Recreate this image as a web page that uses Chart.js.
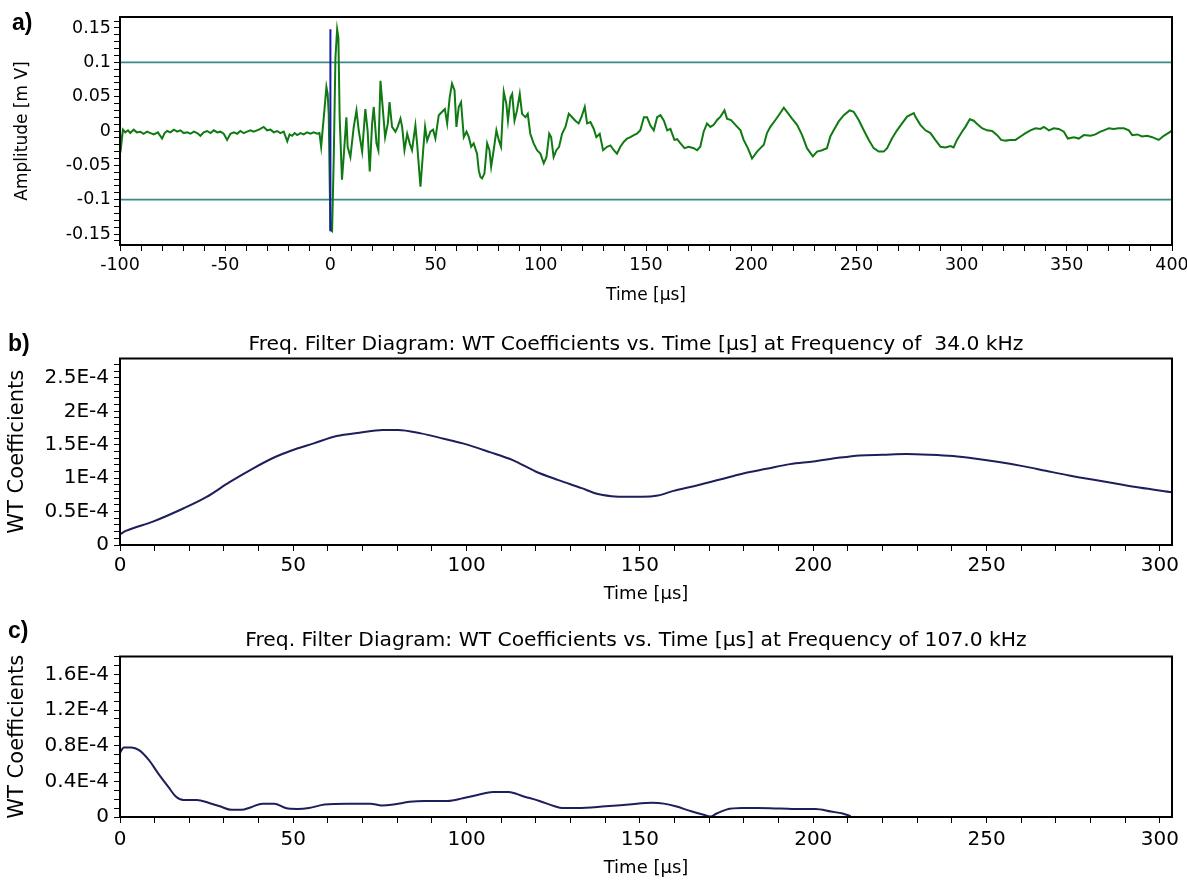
<!DOCTYPE html>
<html>
<head>
<meta charset="utf-8">
<script src="https://cdn.jsdelivr.net/npm/chart.js@4.4.1/dist/chart.umd.min.js"></script>
<style>
  html, body { margin: 0; padding: 0; background: #fff; }
  #page { position: relative; width: 1187px; height: 882px; overflow: hidden; }
  #page canvas { position: absolute; left: 0; }
  .tag { position: absolute; font: bold 23px 'Liberation Sans', Arial, sans-serif; line-height: 1; color: #000; }
</style>
</head>
<body>
<div id="page">
  <canvas id="chartA" width="1210" height="310" style="top:0"></canvas>
  <canvas id="chartB" width="1210" height="300" style="top:310px"></canvas>
  <canvas id="chartC" width="1210" height="272" style="top:610px"></canvas>
  <div class="tag" style="left:12px;top:11px">a)</div>
  <div class="tag" style="left:8px;top:332px">b)</div>
  <div class="tag" style="left:8px;top:619px">c)</div>
</div>
<script>
/* ── a) recorded signal, read off the trace ── */
const timeA = [
  -100, -99.4, -98.6, -97.5, -96.2, -95.1, -93.5, -92.0, -90.3, -88.8, -87.1, -85.5, -83.9, -82.0, -80.0,
  -78.8, -77.6, -76.0, -74.4, -72.8, -71.3, -69.7, -68.1, -66.5, -64.9, -63.3, -61.8, -60.2, -58.6, -57.0,
  -55.4, -53.8, -52.3, -50.7, -49.1, -47.5, -45.9, -44.3, -42.8, -41.2, -39.6, -38.0, -36.5, -34.0, -31.7,
  -30.1, -28.5, -26.9, -25.3, -23.8, -22.2, -20.5, -19.4, -18.2, -17.0, -15.8, -14.2, -12.7, -11.1, -9.5,
  -7.9, -6.3, -5.2, -4.4, -3.6, -3.0, -1.9, -1.3, -0.8, 0.0, 0.8, 1.6, 2.4, 3.2, 3.8,
  4.4, 5.5, 6.3, 7.6, 8.2, 9.5, 11.1, 12.4, 13.5, 15.1, 16.6, 17.7, 18.7, 19.8, 20.6,
  21.9, 22.8, 23.8, 24.7, 26.0, 27.3, 28.1, 29.3, 30.9, 32.0, 33.3, 34.1, 35.2, 36.5, 37.7,
  38.8, 40.4, 41.2, 42.8, 44.1, 45.0, 46.0, 47.5, 48.8, 49.9, 51.5, 53.1, 54.4, 55.5, 56.7,
  57.8, 59.0, 59.9, 61.0, 62.1, 63.4, 64.7, 65.8, 66.9, 68.1, 69.7, 70.5, 71.3, 72.1, 73.2,
  74.5, 75.6, 76.4, 77.6, 78.9, 80.0, 81.1, 82.4, 83.6, 84.4, 85.6, 86.4, 87.5, 88.7, 90.0,
  91.1, 92.7, 93.8, 95.0, 96.6, 98.2, 99.8, 101.4, 102.7, 104.0, 104.9, 106.1, 107.4, 108.7, 110.1,
  111.7, 113.3, 114.9, 116.4, 118.0, 119.3, 120.9, 122.0, 123.6, 125.2, 126.4, 128.0, 129.6, 131.5, 133.1,
  134.7, 136.2, 137.8, 139.4, 141.0, 142.6, 144.2, 145.7, 147.3, 149.0, 150.5, 152.1, 153.7, 155.3, 156.9,
  158.5, 160.1, 161.6, 163.5, 164.8, 166.4, 168.3, 170.3, 172.7, 174.3, 175.8, 177.4, 179.0, 180.6, 182.2,
  183.8, 185.4, 187.3, 188.5, 190.4, 192.5, 194.9, 196.4, 198.4, 200.4, 202.8, 204.4, 206.0, 207.5, 209.1,
  211.5, 213.1, 215.5, 217.0, 219.4, 221.8, 224.2, 226.5, 229.3, 231.3, 233.7, 236.0, 237.6, 239.2, 241.6,
  244.0, 246.8, 248.7, 251.1, 253.5, 255.9, 258.2, 260.6, 263.0, 264.6, 266.9, 269.3, 271.7, 274.1, 277.3,
  278.0, 280.4, 282.8, 285.2, 287.5, 290.0, 292.3, 294.7, 296.2, 297.8, 300.2, 301.8, 303.9, 305.8, 307.4,
  309.7, 312.1, 314.5, 316.9, 318.8, 320.8, 323.2, 325.6, 328.0, 330.4, 332.7, 335.1, 337.5, 339.1, 341.5,
  343.8, 346.2, 348.6, 350.5, 353.4, 355.7, 358.1, 361.3, 363.6, 366.0, 367.6, 370.0, 372.3, 374.7, 377.1,
  379.5, 381.1, 383.5, 385.8, 388.2, 390.6, 393.7, 396.1, 399.3, 400.0
];
const ampA = [
  -0.004, -0.020, 0.002, -0.002, 0.001, -0.003, 0.002, -0.002, -0.001, -0.004, -0.001, -0.003, -0.005, -0.002, -0.011,
  -0.003, 0.000, -0.002, 0.002, -0.001, 0.001, -0.003, -0.002, -0.004, -0.001, -0.003, -0.007, -0.002, 0.000, -0.003,
  0.001, -0.002, -0.001, -0.004, -0.013, -0.004, -0.002, -0.004, 0.000, -0.003, -0.001, 0.001, -0.001, 0.002, 0.006,
  0.001, 0.002, -0.002, 0.000, -0.003, -0.001, -0.015, -0.005, -0.007, -0.003, -0.006, -0.003, -0.005, -0.002, -0.004,
  -0.002, -0.004, -0.003, -0.023, 0.005, 0.025, 0.064, 0.054, 0.025, -0.144, -0.146, -0.038, 0.107, 0.148, 0.136,
  0.020, -0.071, -0.038, 0.020, -0.023, -0.038, 0.006, 0.030, 0.000, -0.030, 0.032, 0.000, -0.059, 0.010, 0.035,
  -0.018, -0.028, 0.073, 0.040, -0.009, 0.011, 0.042, 0.006, -0.001, 0.006, 0.018, 0.006, -0.028, -0.004, -0.018,
  -0.028, 0.008, -0.018, -0.081, -0.028, 0.006, -0.014, -0.001, 0.002, -0.011, 0.023, 0.028, 0.032, 0.011, 0.049,
  0.069, 0.059, 0.006, 0.035, 0.042, -0.009, -0.001, -0.009, -0.023, -0.018, -0.033, -0.057, -0.067, -0.069, -0.062,
  -0.018, -0.028, -0.052, -0.028, 0.001, -0.013, -0.023, 0.057, 0.040, 0.015, 0.049, 0.054, 0.015, 0.030, 0.054,
  0.025, 0.020, 0.025, -0.004, -0.018, -0.028, -0.033, -0.047, -0.038, -0.004, -0.009, -0.038, -0.028, -0.023, -0.004,
  0.006, 0.025, 0.020, 0.015, 0.011, 0.020, 0.035, 0.011, 0.013, 0.003, -0.009, -0.004, -0.028, -0.023, -0.021,
  -0.028, -0.033, -0.023, -0.016, -0.011, -0.009, -0.006, -0.004, 0.001, 0.020, 0.020, 0.008, 0.001, 0.020, 0.023,
  0.015, 0.001, 0.003, -0.013, -0.012, -0.018, -0.025, -0.023, -0.025, -0.028, -0.023, -0.001, 0.011, 0.006, 0.009,
  0.016, 0.021, 0.030, 0.018, 0.016, 0.009, 0.001, -0.013, -0.025, -0.040, -0.030, -0.025, -0.020, -0.003, 0.006,
  0.016, 0.023, 0.034, 0.028, 0.018, 0.009, -0.006, -0.025, -0.037, -0.030, -0.028, -0.025, -0.008, 0.001, 0.014,
  0.023, 0.030, 0.028, 0.016, 0.001, -0.013, -0.025, -0.030, -0.030, -0.025, -0.011, 0.001, 0.011, 0.021, 0.026,
  0.021, 0.009, 0.001, -0.003, -0.013, -0.023, -0.024, -0.022, -0.024, -0.013, -0.001, 0.006, 0.017, 0.015, 0.010,
  0.004, 0.001, 0.000, -0.006, -0.013, -0.014, -0.013, -0.013, -0.008, -0.003, 0.001, 0.004, 0.003, 0.006, 0.001,
  0.004, 0.003, -0.001, -0.011, -0.009, -0.011, -0.006, -0.007, -0.005, -0.001, 0.001, 0.004, 0.003, 0.004, 0.004,
  0.001, -0.006, -0.005, -0.008, -0.007, -0.009, -0.013, -0.007, -0.001, 0.001
];
const thresholdA = 0.1;
const triggerTime = 0;
const triggerSpan = [0.148, -0.146];

/* ── b) WT coefficients at 34.0 kHz (values ×1E-4) ── */
const timeB = [
  0, 1.7, 9.5, 18.4, 25, 31.6, 38.2, 44.9, 49.3, 55.9, 62.5, 69.1, 75.8, 80.2, 86.8, 93.4, 98.9,
  106.7, 113.3, 119.9, 126.5, 133.2, 137.3, 141.8, 146.3, 150.7, 155.2, 159.7, 166.4, 173.1, 179.8,
  186.5, 193.3, 200, 206.7, 213.4, 220.1, 226.8, 233.5, 240.3, 247, 253.6, 260.4, 267.1, 273.8,
  280.5, 287.2, 294, 303.5
];
const coefB = [
  0.16, 0.21, 0.35, 0.55, 0.72, 0.94, 1.14, 1.32, 1.41, 1.52, 1.63, 1.68, 1.72, 1.72, 1.67, 1.59, 1.52,
  1.39, 1.27, 1.10, 0.97, 0.85, 0.77, 0.73, 0.72, 0.72, 0.74, 0.81, 0.89, 0.98, 1.07,
  1.14, 1.21, 1.25, 1.30, 1.34, 1.35, 1.36, 1.35, 1.33, 1.29, 1.24, 1.18, 1.11, 1.04,
  0.98, 0.92, 0.86, 0.79
];

/* ── c) WT coefficients at 107.0 kHz (values ×1E-4) ── */
const timeC = [
  0, 1.1, 3.3, 5.5, 8.3, 11, 13.9, 16.1, 18.3, 22.2, 25.5, 28.8, 32.2, 35, 37.8, 41.1, 44.5, 47.8,
  51.2, 54.5, 59, 65.5, 72.2, 75.5, 78.9, 83.5, 87.8, 94.5, 98.9, 103.4, 107.6, 112.1, 116.5, 121,
  125.4, 127.6, 132, 140.1, 146.8, 153.6, 156.9, 160.3, 164.8, 168.1, 170.4, 172.1, 174.9, 179.4,
  183.9, 190.6, 196.2, 200.7, 205.1, 208.5, 210.8
];
const coefC = [
  0.72, 0.78, 0.78, 0.75, 0.64, 0.49, 0.34, 0.23, 0.19, 0.19, 0.16, 0.12, 0.08, 0.08, 0.11, 0.15, 0.15, 0.10,
  0.09, 0.10, 0.14, 0.15, 0.15, 0.13, 0.14, 0.17, 0.18, 0.18, 0.21, 0.25, 0.28, 0.28, 0.23, 0.18,
  0.12, 0.10, 0.10, 0.12, 0.14, 0.16, 0.15, 0.12, 0.064, 0.028, 0.005, 0.039, 0.083, 0.10,
  0.10, 0.095, 0.089, 0.089, 0.061, 0.039, 0.009
];

const FONT = "'DejaVu Sans', sans-serif";

/* ── Box around the plot area ── */
const framePlugin = {
  id: 'frame',
  afterDatasetsDraw(chart) {
    const { ctx, chartArea: a } = chart;
    ctx.save();
    ctx.strokeStyle = '#000';
    ctx.lineWidth = 2;
    ctx.strokeRect(a.left, a.top, a.right - a.left, a.bottom - a.top);
    ctx.restore();
  }
};

/* ── Title over the plot area ── */
const panelTitlePlugin = {
  id: 'panelTitle',
  afterDraw(chart, args, opts) {
    if (!opts || !opts.text) return;
    const { ctx, chartArea: a } = chart;
    ctx.save();
    ctx.font = `${opts.size}px ${FONT}`;
    ctx.fillStyle = '#000';
    ctx.textAlign = 'center';
    ctx.textBaseline = 'alphabetic';
    ctx.fillText(opts.text, (a.left + a.right) / 2 + (opts.shift || 0), opts.baseline);
    ctx.restore();
  }
};

function labelEvery(step, fmt) {
  return (value) => {
    const k = value / step;
    return Math.abs(k - Math.round(k)) < 1e-6 ? fmt(value) : '';
  };
}

const fmtPlain = (v) => String(Math.round(v * 1000) / 1000);
const fmtE4 = (v) => {
  const n = Math.round(v * 1e5) / 10;
  return n === 0 ? '0' : n + 'E-4';
};

function xScale(o) {
  return {
    type: 'linear',
    min: o.min,
    max: o.max,
    afterFit: (s) => { s.height = o.height; },
    border: { display: true, color: '#000', width: 2 },
    grid: { drawOnChartArea: false, drawTicks: true, tickLength: 6, tickColor: '#000', tickWidth: 1 },
    ticks: {
      stepSize: 10, maxTicksLimit: 1000, autoSkip: false, includeBounds: false, maxRotation: 0,
      color: '#000', font: { family: FONT, size: o.tickSize }, padding: o.tickPad,
      callback: labelEvery(50, fmtPlain)
    },
    title: {
      display: true, text: 'Time [µs]', color: '#000',
      font: { family: FONT, size: o.titleSize }, padding: { top: 0, bottom: o.titlePad }
    }
  };
}

function yScale(o) {
  return {
    type: 'linear',
    min: o.min,
    max: o.max,
    afterFit: (s) => { s.width = 120; },
    border: { display: true, color: '#000', width: 2 },
    grid: { drawOnChartArea: false, drawTicks: true, tickLength: 6, tickColor: '#000', tickWidth: 1 },
    ticks: {
      stepSize: o.step, maxTicksLimit: 1000, autoSkip: false, includeBounds: false,
      color: '#000', font: { family: FONT, size: o.tickSize }, padding: o.tickPad,
      callback: labelEvery(o.labelStep, o.fmt)
    },
    title: {
      display: true, text: o.title, color: '#000',
      font: { family: FONT, size: o.titleSize }, padding: { top: o.titlePad, bottom: 0 }
    }
  };
}

const baseOptions = {
  responsive: false,
  animation: false,
  events: [],
  plugins: { legend: { display: false }, tooltip: { enabled: false } }
};

/* ── a) Amplitude vs time ── */
new Chart(document.getElementById('chartA'), {
  type: 'line',
  data: {
    datasets: [
      {
        data: [{ x: triggerTime, y: triggerSpan[0] }, { x: triggerTime, y: triggerSpan[1] }],
        borderColor: '#1a1aa8', borderWidth: 2, pointRadius: 0, order: 0
      },
      {
        data: timeA.map((t, i) => ({ x: t, y: ampA[i] })),
        borderColor: '#0f7a12', borderWidth: 2, pointRadius: 0, tension: 0, order: 1
      },
      {
        data: [{ x: -100, y: thresholdA }, { x: 400, y: thresholdA }],
        borderColor: '#3d8886', borderWidth: 1.8, pointRadius: 0, order: 2
      },
      {
        data: [{ x: -100, y: -thresholdA }, { x: 400, y: -thresholdA }],
        borderColor: '#3d8886', borderWidth: 1.8, pointRadius: 0, order: 2
      }
    ]
  },
  options: {
    ...baseOptions,
    layout: { padding: { left: 0, right: 38, top: 17, bottom: 0 } },
    scales: {
      x: xScale({ min: -100, max: 400, height: 65, tickSize: 17.5, tickPad: 4, titleSize: 17, titlePad: 4 }),
      y: yScale({
        min: -0.166, max: 0.166, step: 0.01, labelStep: 0.05, fmt: fmtPlain,
        tickSize: 17.5, tickPad: 3, title: 'Amplitude [m V]', titleSize: 17, titlePad: 12
      })
    }
  },
  plugins: [framePlugin]
});

/* ── b) 34.0 kHz ── */
new Chart(document.getElementById('chartB'), {
  type: 'line',
  data: {
    datasets: [{
      data: timeB.map((t, i) => ({ x: t, y: coefB[i] * 1e-4 })),
      borderColor: '#1e1e5c', borderWidth: 2, pointRadius: 0, cubicInterpolationMode: 'monotone'
    }]
  },
  options: {
    ...baseOptions,
    layout: { padding: { left: 0, right: 38, top: 48.5, bottom: 0 } },
    plugins: {
      ...baseOptions.plugins,
      panelTitle: { text: 'Freq. Filter Diagram: WT Coefficients vs. Time [µs] at Frequency of  34.0 kHz', size: 20.3, baseline: 39.5, shift: -10 }
    },
    scales: {
      x: xScale({ min: 0, max: 303.5, height: 65, tickSize: 20, tickPad: 2.5, titleSize: 18, titlePad: 5 }),
      y: yScale({
        min: 0, max: 2.79e-4, step: 1e-5, labelStep: 5e-5, fmt: fmtE4,
        tickSize: 20, tickPad: 5, title: 'WT Coefficients', titleSize: 21, titlePad: 5
      })
    }
  },
  plugins: [framePlugin, panelTitlePlugin]
});

/* ── c) 107.0 kHz ── */
new Chart(document.getElementById('chartC'), {
  type: 'line',
  data: {
    datasets: [{
      data: timeC.map((t, i) => ({ x: t, y: coefC[i] * 1e-4 })),
      borderColor: '#1e1e5c', borderWidth: 2, pointRadius: 0, cubicInterpolationMode: 'monotone'
    }]
  },
  options: {
    ...baseOptions,
    layout: { padding: { left: 0, right: 38, top: 46.5, bottom: 0 } },
    plugins: {
      ...baseOptions.plugins,
      panelTitle: { text: 'Freq. Filter Diagram: WT Coefficients vs. Time [µs] at Frequency of 107.0 kHz', size: 20.3, baseline: 35.5, shift: -10 }
    },
    scales: {
      x: xScale({ min: 0, max: 303.5, height: 65, tickSize: 20, tickPad: 5, titleSize: 18, titlePad: 3 }),
      y: yScale({
        min: 0, max: 1.8e-4, step: 1e-5, labelStep: 4e-5, fmt: fmtE4,
        tickSize: 20, tickPad: 5, title: 'WT Coefficients', titleSize: 21, titlePad: 5
      })
    }
  },
  plugins: [framePlugin, panelTitlePlugin]
});
</script>
</body>
</html>
